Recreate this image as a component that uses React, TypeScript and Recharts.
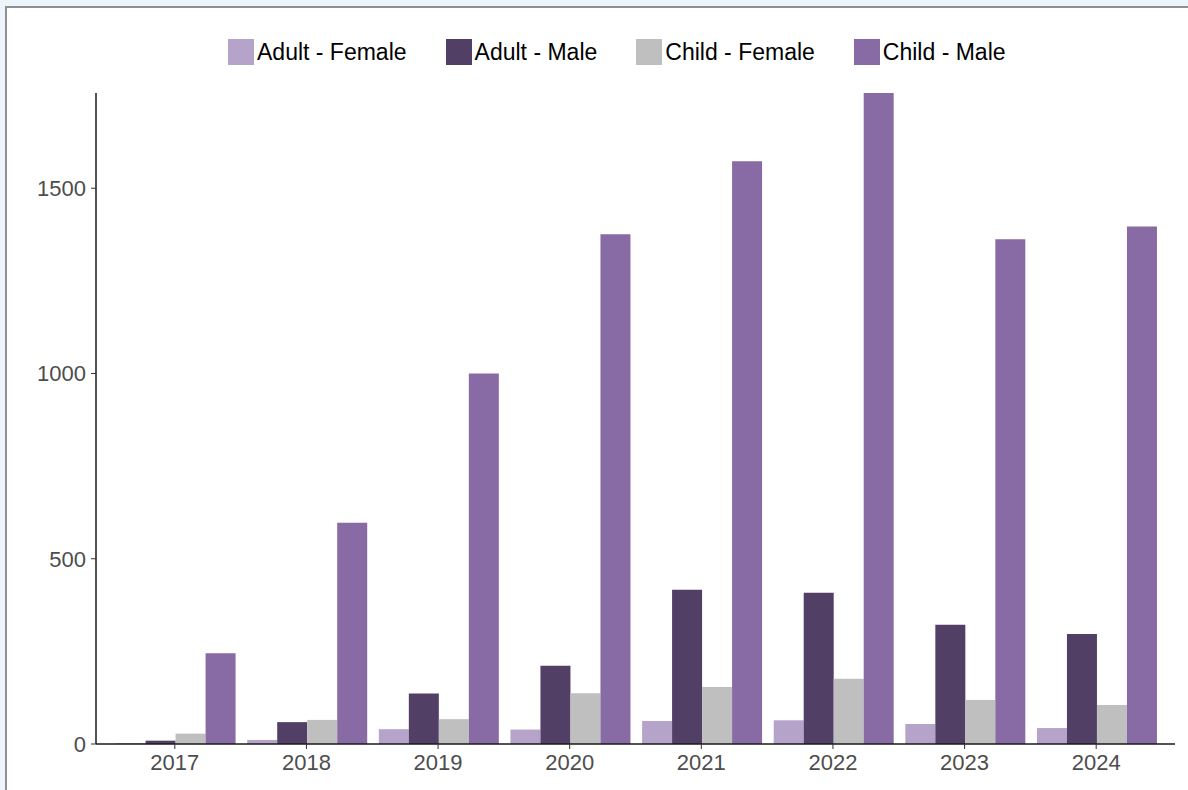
import { Bar, BarChart, XAxis, YAxis } from 'recharts';

const YEARS = ['2017', '2018', '2019', '2020', '2021', '2022', '2023', '2024'];

const ADULT_FEMALE = [2, 11, 40, 39, 62, 64, 54, 43];
const ADULT_MALE = [9, 59, 136, 211, 416, 408, 322, 297];
const CHILD_FEMALE = [28, 65, 67, 137, 154, 176, 119, 105];
const CHILD_MALE = [245, 597, 1000, 1376, 1573, 1757, 1362, 1397];

const Y_TICKS = [0, 500, 1000, 1500];

const SERIES = [
    { key: 'adultFemale', name: 'Adult - Female', color: '#b5a3ca', values: ADULT_FEMALE },
    { key: 'adultMale', name: 'Adult - Male', color: '#513f66', values: ADULT_MALE },
    { key: 'childFemale', name: 'Child - Female', color: '#bfbfbf', values: CHILD_FEMALE },
    { key: 'childMale', name: 'Child - Male', color: '#886ba4', values: CHILD_MALE },
];

const FONT = '"Liberation Sans", Arial, sans-serif';

// wide rows: { year, adultFemale, adultMale, ... }
const rows = YEARS.map((year, i) => {
    const row: any = { year };
    for (const s of SERIES) row[s.key] = s.values[i];
    return row;
});

function LegendRow() {
    return (
        <div
            style={{
                position: 'absolute',
                top: 39,
                left: 228,
                display: 'flex',
                alignItems: 'center',
                gap: 39,
                fontFamily: FONT,
                fontSize: 23,
                color: '#000',
                whiteSpace: 'nowrap',
            }}
        >
            {SERIES.map(s => (
                <div key={s.key} style={{ display: 'flex', alignItems: 'center', gap: 3 }}>
                    <div style={{ width: 26, height: 26, background: s.color }} />
                    <span style={{ lineHeight: '26px' }}>{s.name}</span>
                </div>
            ))}
        </div>
    );
}

export default function App() {
    const tickStyle = { fontFamily: FONT, fontSize: 22, fill: '#4d4d4d' };

    return (
        <div
            style={{
                position: 'absolute',
                left: 0,
                top: 0,
                width: 1188,
                height: 790,
                overflow: 'hidden',
                background: '#eef4fc',
            }}
        >
            <div
                style={{
                    position: 'absolute',
                    left: 5,
                    top: 6,
                    width: 1300,
                    height: 900,
                    background: '#fff',
                    border: '2px solid #8f8f8f',
                }}
            />
            <LegendRow />
            <div style={{ position: 'absolute', left: 0, top: 0 }}>
                <BarChart
                    width={1188}
                    height={790}
                    data={rows}
                    margin={{ top: 93, right: 13, bottom: 6, left: 36 }}
                    barCategoryGap="5%"
                    barGap={0}
                >
                    <XAxis
                        dataKey="year"
                        height={40}
                        padding={{ left: 13, right: 13 }}
                        axisLine={{ stroke: '#1a1a1a', strokeWidth: 1.5 }}
                        tickLine={{ stroke: '#333' }}
                        tickSize={5}
                        tickMargin={5}
                        tick={tickStyle}
                    />
                    <YAxis
                        width={60}
                        domain={[0, 'dataMax']}
                        ticks={Y_TICKS}
                        interval={0}
                        axisLine={{ stroke: '#1a1a1a', strokeWidth: 1.5 }}
                        tickLine={{ stroke: '#333' }}
                        tickSize={5}
                        tickMargin={5}
                        tick={tickStyle}
                    />
                    {SERIES.map(s => (
                        <Bar
                            key={s.key}
                            dataKey={s.key}
                            name={s.name}
                            fill={s.color}
                            isAnimationActive={false}
                        />
                    ))}
                </BarChart>
            </div>
        </div>
    );
}
